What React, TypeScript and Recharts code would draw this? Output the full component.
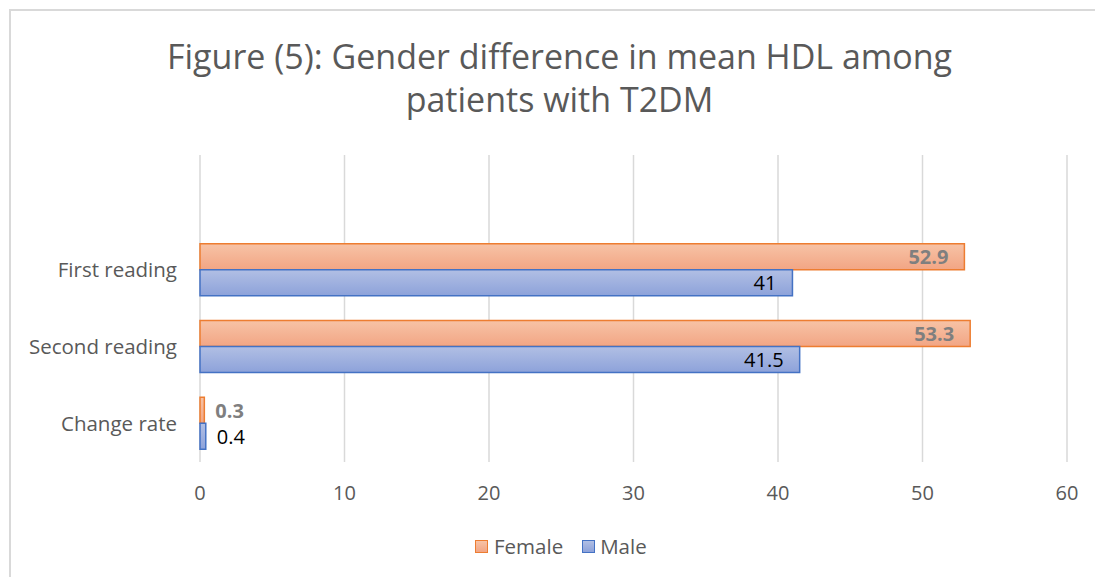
import React from "react";
import { BarChart, Bar, XAxis, YAxis, CartesianGrid, LabelList } from "recharts";

const categories = ["", "First reading", "Second reading", "Change rate"];
const femaleValues = [null, 52.9, 53.3, 0.3];
const maleValues = [null, 41, 41.5, 0.4];
const xTicks = [0, 10, 20, 30, 40, 50, 60];

const FONT = "'Open Sans', 'Noto Sans', sans-serif";
const AXIS_GRAY = "#595959";

const data = categories.map((category, i) => ({
  category,
  female: femaleValues[i],
  male: maleValues[i],
}));

const makeLabel = (color: string, bold: boolean) => (props: any) => {
  const { x, y, width, height, value } = props;
  if (value === null || value === undefined) return null;
  const inside = value >= 5;
  const lx = inside ? x + width - 16 : x + width + 11;
  return (
    <text
      x={lx}
      y={y + height / 2}
      textAnchor={inside ? "end" : "start"}
      dominantBaseline="central"
      fill={color}
      fontWeight={bold ? 700 : 400}
      fontSize={20}
      fontFamily={FONT}
    >
      {value}
    </text>
  );
};

const LegendSwatch = ({ fill, stroke }: { fill: string; stroke: string }) => (
  <span
    style={{
      display: "inline-block",
      width: 11,
      height: 11,
      background: fill,
      border: `1.5px solid ${stroke}`,
    }}
  />
);

export default function App() {
  return (
    <>
      <style>{`body{margin:0;overflow:hidden;background:#fff}`}</style>
      <div
        style={{
          position: "relative",
          marginLeft: 9,
          marginTop: 9,
          width: 1084,
          height: 566,
          borderLeft: "2px solid #D9D9D9",
          borderTop: "2px solid #D9D9D9",
          fontFamily: FONT,
        }}
      >
        <div
          style={{
            position: "absolute",
            left: 0,
            top: 24,
            width: 1097,
            textAlign: "center",
            fontSize: 34,
            lineHeight: "43px",
            color: AXIS_GRAY,
          }}
        >
          Figure (5): Gender difference in mean HDL among
          <br />
          patients with T2DM
        </div>

        <BarChart
          width={1084}
          height={566}
          data={data}
          layout="vertical"
          margin={{ top: 144, right: 28, bottom: 75, left: 0 }}
          barSize={26}
          barGap={0}
          style={{ position: "absolute", left: 0, top: 0 }}
        >
          <defs>
            <linearGradient id="femaleGrad" x1="0" y1="0" x2="0" y2="1">
              <stop offset="0%" stopColor="#F7C3A6" />
              <stop offset="100%" stopColor="#F2A584" />
            </linearGradient>
            <linearGradient id="maleGrad" x1="0" y1="0" x2="0" y2="1">
              <stop offset="0%" stopColor="#B1BFE4" />
              <stop offset="100%" stopColor="#8DA2DA" />
            </linearGradient>
          </defs>
          <CartesianGrid horizontal={false} vertical={true} stroke="#D9D9D9" strokeWidth={1.5} />
          <XAxis
            type="number"
            domain={[0, 60]}
            ticks={xTicks}
            axisLine={false}
            tickLine={false}
            tickSize={0}
            tickMargin={24}
            tick={{ fill: AXIS_GRAY, fontSize: 20, fontFamily: FONT }}
            height={40}
          />
          <YAxis
            type="category"
            dataKey="category"
            width={189}
            axisLine={false}
            tickLine={false}
            tickSize={0}
            tickMargin={23}
            tick={{ fill: AXIS_GRAY, fontSize: 20.5, fontFamily: FONT }}
          />
          <Bar
            dataKey="female"
            fill="url(#femaleGrad)"
            stroke="#ED7D31"
            strokeWidth={1.5}
            isAnimationActive={false}
          >
            <LabelList dataKey="female" content={makeLabel("#7F7F7F", true)} />
          </Bar>
          <Bar
            dataKey="male"
            fill="url(#maleGrad)"
            stroke="#4472C4"
            strokeWidth={1.5}
            isAnimationActive={false}
          >
            <LabelList dataKey="male" content={makeLabel("#000000", false)} />
          </Bar>
        </BarChart>

        <div
          style={{
            position: "absolute",
            top: 524,
            left: 464,
            display: "flex",
            alignItems: "center",
            fontSize: 20.5,
            color: AXIS_GRAY,
            lineHeight: "22px",
          }}
        >
          <LegendSwatch fill="linear-gradient(#F7C3A6, #F2A584)" stroke="#ED7D31" />
          <span style={{ marginLeft: 6, marginRight: 19 }}>Female</span>
          <LegendSwatch fill="linear-gradient(#B1BFE4, #8DA2DA)" stroke="#4472C4" />
          <span style={{ marginLeft: 5 }}>Male</span>
        </div>
      </div>
    </>
  );
}
